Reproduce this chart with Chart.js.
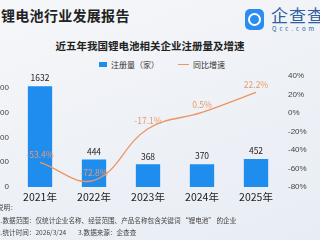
<!DOCTYPE html>
<html>
<head>
<meta charset="utf-8">
<script src="https://cdn.jsdelivr.net/npm/chart.js@4"></script>
<style>
  html, body { margin: 0; padding: 0; }
  body {
    width: 320px; height: 240px; overflow: hidden; position: relative;
    background: linear-gradient(160deg, #f6f7fa 0%, #eef1f6 50%, #e8edf5 100%);
    font-family: "Noto Sans CJK SC", "Noto Sans", sans-serif;
  }
  .title { position: absolute; left: 1px; top: 5px; font-size: 14px; font-weight: bold; color: #222; letter-spacing: 0.3px; white-space: nowrap; }
  .logo-icon { position: absolute; left: 245px; top: 9px; width: 19px; height: 21px; border-radius: 5px; background: #2b8cf2; }
  .logo-icon::after { content: ""; position: absolute; left: 3px; top: 4px; width: 9px; height: 9px; border: 2px solid #fff; border-radius: 50%; }
  .logo-text { position: absolute; left: 271px; top: 2px; font-size: 17px; color: #2d5f9e; letter-spacing: 1px; white-space: nowrap; }
  .logo-sub { position: absolute; left: 272px; top: 24px; font-size: 6px; color: #2d5f9e; letter-spacing: 3px; white-space: nowrap; }
  .subtitle { position: absolute; left: 0; width: 300px; top: 38px; text-align: center; font-size: 10.5px; font-weight: bold; color: #222; }
  .legend { position: absolute; top: 59px; left: 99px; font-size: 8px; color: #333; display: flex; align-items: center; white-space: nowrap; }
  .legend .box { width: 8px; height: 5px; background: #1f8ded; margin-right: 4px; }
  .legend .ln { width: 11px; height: 1px; background: #ef9460; margin: 0 4px 0 19px; }
  #wrap { position: absolute; left: -20px; top: 66px; width: 340px; height: 144px; }
  .notes { position: absolute; left: -3px; top: 201px; font-size: 6.6px; color: #444; line-height: 12.5px; white-space: nowrap; }
</style>
</head>
<body>
<div class="title">锂电池行业发展报告</div>
<div class="logo-icon"></div>
<div class="logo-text">企查查</div>
<div class="logo-sub">Qcc.com</div>
<div class="subtitle">近五年我国锂电池相关企业注册量及增速</div>
<div class="legend"><span class="box"></span><span>注册量（家）</span><span class="ln"></span><span>同比增速</span></div>
<div id="wrap"><canvas id="chart"></canvas></div>
<div class="notes">
  <div>说明：</div>
  <div>1.数据范围：仅统计企业名称、经营范围、产品名称包含关键词 “锂电池” 的企业</div>
  <div>2.统计时间：2026/3/24&nbsp;&nbsp;&nbsp;&nbsp;&nbsp;&nbsp;&nbsp;&nbsp;3.数据来源：企查查</div>
</div>
<script>
const years = ["2021年", "2022年", "2023年", "2024年", "2025年"];
const registrations = [1632, 444, 368, 370, 452];
const growthRates = [-53.4, -72.8, -17.1, 0.5, 22.2];
const growthLabels = ["-53.4%", "-72.8%", "-17.1%", "0.5%", "22.2%"];

const BAR_COLOR = "#1f8ded";
const LINE_COLOR = "#ef9460";

const valueLabels = {
  id: "valueLabels",
  afterDatasetsDraw(chart) {
    const ctx = chart.ctx;
    ctx.save();
    ctx.textAlign = "center";
    ctx.textBaseline = "middle";
    ctx.font = '8.5px "Noto Sans CJK SC", sans-serif';
    ctx.fillStyle = "#222";
    chart.getDatasetMeta(1).data.forEach((bar, i) => {
      ctx.fillText(String(registrations[i]), bar.x, bar.y - 8);
    });
    ctx.fillStyle = "#e99a6c";
    chart.getDatasetMeta(0).data.forEach((pt, i) => {
      ctx.fillText(growthLabels[i], pt.x, pt.y - 8);
    });
    ctx.restore();
  },
};

new Chart(document.getElementById("chart"), {
  data: {
    labels: years,
    datasets: [
      {
        type: "line",
        label: "同比增速",
        data: growthRates,
        yAxisID: "y1",
        borderColor: LINE_COLOR,
        borderWidth: 1.3,
        pointRadius: 0,
        tension: 0.4,
        order: 0,
      },
      {
        type: "bar",
        label: "注册量（家）",
        data: registrations,
        yAxisID: "y",
        backgroundColor: BAR_COLOR,
        barPercentage: 0.9,
        categoryPercentage: 0.5,
        order: 1,
      },
    ],
  },
  options: {
    responsive: true,
    maintainAspectRatio: false,
    animation: false,
    layout: { padding: { top: 9, left: 0, right: 0, bottom: 0 } },
    plugins: { legend: { display: false }, tooltip: { enabled: false } },
    scales: {
      x: {
        grid: { display: false, drawTicks: false },
        border: { display: false },
        ticks: { color: "#222", font: { size: 10.5, family: "Noto Sans CJK SC" }, padding: 4 },
        afterFit: (scale) => { scale.height = 23; },
      },
      y: {
        position: "left",
        min: 0,
        max: 1800,
        ticks: { stepSize: 200, color: "#444", font: { size: 8 }, padding: 4 },
        grid: { display: false, drawTicks: false },
        border: { display: false },
        afterFit: (scale) => { scale.width = 33; },
      },
      y1: {
        position: "right",
        min: -80,
        max: 40,
        ticks: { stepSize: 20, color: "#444", font: { size: 8 }, padding: 5, callback: (v) => `${v}%` },
        grid: { display: false, drawTicks: false },
        border: { display: false },
        afterFit: (scale) => { scale.width = 37; },
      },
    },
  },
  plugins: [valueLabels],
});
</script>
</body>
</html>
